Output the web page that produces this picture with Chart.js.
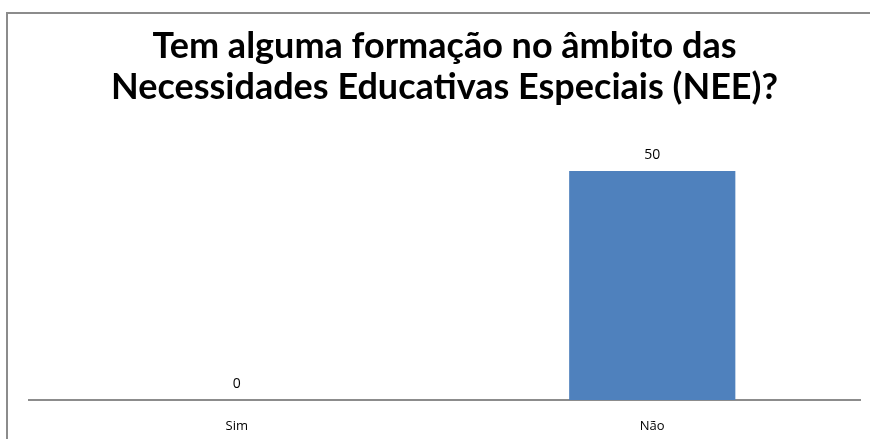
<!DOCTYPE html>
<html>
<head>
<meta charset="utf-8">
<script src="https://cdn.jsdelivr.net/npm/chart.js@4/dist/chart.umd.min.js"></script>
<style>
    html, body { margin: 0; padding: 0; background: #fff; overflow: hidden; }
    #wrap { position: relative; width: 870px; height: 439px; }
    #frame {
        position: absolute; left: 6px; top: 12px; width: 900px; height: 500px;
        border-left: 2px solid #8c8c8c; border-top: 2px solid #8c8c8c;
    }
    #chart { position: absolute; left: 0; top: 0; }
</style>
</head>
<body>
<div id="wrap">
    <div id="frame"></div>
    <canvas id="chart" width="870" height="439"></canvas>
</div>
<script>
// Datos del gráfico
const categorias = ['Sim', 'Não'];
const respostas = [0, 50];
const titulo = ['Tem alguma formação no âmbito das', 'Necessidades Educativas Especiais (NEE)?'];

// Etiquetas de valor encima de cada barra
const valueLabels = {
    id: 'valueLabels',
    afterDatasetsDraw(chart) {
        const ctx = chart.ctx;
        const meta = chart.getDatasetMeta(0);
        ctx.save();
        ctx.font = '14px "Open Sans", "DejaVu Sans", sans-serif';
        ctx.fillStyle = '#000';
        ctx.textAlign = 'center';
        ctx.textBaseline = 'middle';
        meta.data.forEach((bar, i) => {
            ctx.fillText(String(respostas[i]), bar.x, bar.y - 16);
        });
        ctx.restore();
    }
};

new Chart(document.getElementById('chart'), {
    type: 'bar',
    data: {
        labels: categorias,
        datasets: [{
            data: respostas,
            backgroundColor: '#4f81bd',
            borderWidth: 0,
            categoryPercentage: 1,
            barPercentage: 0.4
        }]
    },
    options: {
        responsive: false,
        animation: false,
        layout: { padding: { left: 29, right: 10, top: 0, bottom: 0 } },
        plugins: {
            legend: { display: false },
            tooltip: { enabled: false },
            title: {
                display: true,
                text: titulo,
                color: '#000',
                font: { family: 'Lato, "Open Sans", sans-serif', size: 36, weight: 'bold', lineHeight: 1.14 },
                padding: { top: 26, bottom: 17 }
            }
        },
        scales: {
            x: {
                grid: { display: false, drawTicks: false },
                border: { display: true, color: '#8c8c8c', width: 2 },
                ticks: {
                    color: '#000',
                    padding: 18,
                    font: { family: '"Open Sans", "DejaVu Sans", sans-serif', size: 13 }
                },
                afterFit(scale) {
                    scale.height = 39;
                }
            },
            y: {
                display: false,
                min: 0,
                max: 60
            }
        }
    },
    plugins: [valueLabels]
});
</script>
</body>
</html>
